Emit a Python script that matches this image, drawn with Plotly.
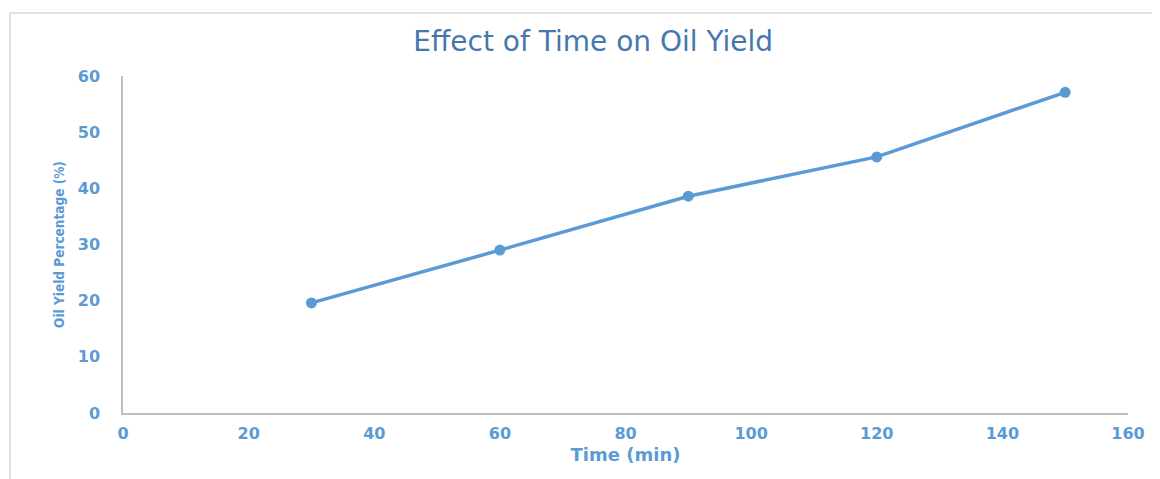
import plotly.graph_objects as go

time_min = [30, 60, 90, 120, 150]
oil_yield = [19.6, 29.0, 38.6, 45.6, 57.1]
x_ticks = [0, 20, 40, 60, 80, 100, 120, 140, 160]
y_ticks = [0, 10, 20, 30, 40, 50, 60]

blue = "#5b9bd5"
font_tick = "'DejaVu Sans', Verdana, sans-serif"

fig = go.Figure()
fig.add_trace(go.Scatter(
    x=time_min, y=oil_yield, mode="lines+markers",
    line=dict(color=blue, width=3.5),
    marker=dict(color=blue, size=11),
    showlegend=False,
))

fig.update_layout(
    width=1152, height=471,
    margin=dict(l=115, r=32, t=68, b=66),
    paper_bgcolor="white", plot_bgcolor="white",
    title=dict(text="Effect of Time on Oil Yield", x=0.508, xanchor="center",
               y=0.93, yanchor="middle",
               font=dict(family=font_tick, size=28, color="#4677ad")),
    xaxis=dict(range=[0, 160], tickvals=x_ticks, showgrid=False, zeroline=False,
               showline=True, linecolor="#bfbfbf", linewidth=1.5,
               ticks="", ticklabelstandoff=5,
               tickfont=dict(family=font_tick, size=16, color=blue, weight="bold"),
               title=dict(text="Time (min)", standoff=6,
                          font=dict(family=font_tick, size=18, color=blue, weight="bold"))),
    yaxis=dict(range=[0, 60], tickvals=y_ticks, showgrid=False, zeroline=False,
               showline=True, linecolor="#bfbfbf", linewidth=1.5,
               ticks="", ticklabelstandoff=18,
               tickfont=dict(family=font_tick, size=16, color=blue, weight="bold"),
               title=dict(text="Oil Yield Percentage (%)", standoff=10,
                          font=dict(family="'DejaVu Sans Condensed', sans-serif",
                                    size=13.5, color=blue, weight="bold"))),
    shapes=[dict(type="rect", xref="paper", yref="paper",
                 x0=-0.1124, x1=1.05, y0=-0.2, y1=1.187,
                 line=dict(color="#d9d9d9", width=1.5), fillcolor="rgba(0,0,0,0)", layer="below")],
)

fig.write_html("out.html")
